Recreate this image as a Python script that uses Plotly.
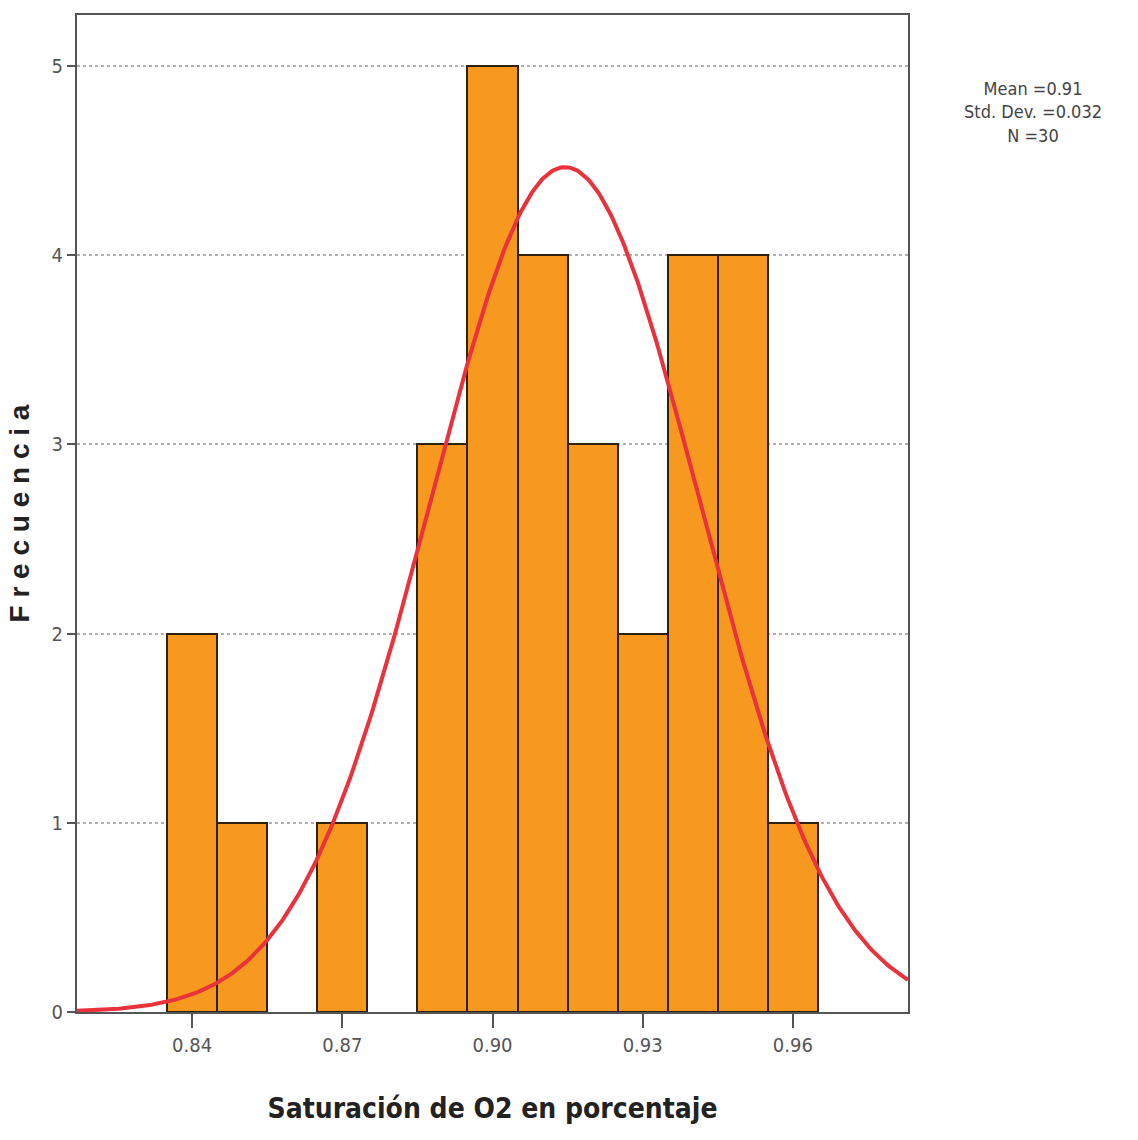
import numpy as np
import plotly.graph_objects as go

# Histogram data
bin_centers = [0.84, 0.85, 0.87, 0.89, 0.90, 0.91, 0.92, 0.93, 0.94, 0.95, 0.96]
counts = [2, 1, 1, 3, 5, 4, 3, 2, 4, 4, 1]
bin_width = 0.01

# Normal curve parameters (as drawn)
curve_mean = 0.9145
curve_sd = 0.0268
n_obs = 30

x_ticks = [0.84, 0.87, 0.90, 0.93, 0.96]
x_tick_labels = ["0.84", "0.87", "0.90", "0.93", "0.96"]
y_ticks = [0, 1, 2, 3, 4, 5]

x_min, x_max = 0.817, 0.983

xs = np.linspace(x_min, x_max, 400)
ys = n_obs * bin_width / (curve_sd * np.sqrt(2 * np.pi)) * np.exp(-0.5 * ((xs - curve_mean) / curve_sd) ** 2)

narrow = "DejaVu Sans Condensed, Liberation Sans Narrow, Arial Narrow, sans-serif"

fig = go.Figure()
fig.add_trace(go.Bar(
    x=bin_centers, y=counts, width=bin_width,
    marker=dict(color="#F7991E", line=dict(color="#2e220e", width=2)),
    showlegend=False,
))
fig.add_trace(go.Scatter(
    x=xs, y=ys, mode="lines",
    line=dict(color="#E9323C", width=4),
    showlegend=False,
))

fig.update_layout(
    width=1138, height=1140,
    margin=dict(l=77, r=230, t=15, b=128),
    paper_bgcolor="white", plot_bgcolor="white",
    bargap=0,
    font=dict(family=narrow, color="#444"),
    xaxis=dict(
        range=[x_min, x_max], tickvals=x_ticks, ticktext=x_tick_labels,
        ticks="outside", ticklen=14, tickwidth=2, tickcolor="#555",
        showgrid=False, zeroline=False,
        showline=True, linecolor="#555", linewidth=2, mirror=True,
        tickfont=dict(size=20, family=narrow, color="#555"),
        title=dict(text="<b>Saturación de O2 en porcentaje</b>", font=dict(size=28, family=narrow, color="#222"), standoff=42),
    ),
    yaxis=dict(
        range=[0, 5.27], tickvals=y_ticks,
        ticks="outside", ticklen=8, tickwidth=2, tickcolor="#555",
        showgrid=True, gridcolor="#b0b0b0", griddash="dot", gridwidth=2,
        zeroline=False,
        showline=True, linecolor="#555", linewidth=2, mirror=True,
        tickfont=dict(size=20, family=narrow, color="#555"),
        title=dict(text="<b>F r e c u e n c i a</b>", font=dict(size=28, family="Liberation Sans, Arial, sans-serif", color="#222"), standoff=14),
    ),
    annotations=[dict(
        xref="paper", yref="paper", x=1.15, y=0.903, xanchor="center", yanchor="middle",
        text="Mean =0.91<br>Std. Dev. =0.032<br>N =30",
        showarrow=False, align="center",
        font=dict(size=18, family=narrow, color="#444"),
    )],
)

fig.write_html("out.html")
